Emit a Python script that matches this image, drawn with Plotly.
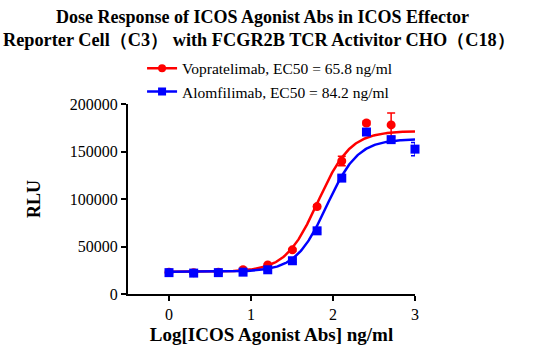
import numpy as np
import plotly.graph_objects as go

# Data
log_dose = [0.0, 0.301, 0.602, 0.903, 1.204, 1.505, 1.806, 2.107, 2.408, 2.709, 3.0]
vop_rlu = [23000, 22500, 23000, 25500, 30500, 46500, 92000, 140000, 180000, 178000, None]
vop_err = [800, 800, 800, 1000, 1200, 1500, 2000, 5000, 2000, 12500, 0]
alo_rlu = [22500, 22000, 22500, 23000, 25500, 35000, 66500, 122000, 170500, 162500, 152500]
alo_err = [800, 800, 800, 800, 1000, 1500, 2000, 2500, 2000, 2500, 7000]

# 4PL fit parameters: bottom, top, logEC50, hill
vop_fit = (23500, 171500, np.log10(65.8), 2.2)
alo_fit = (23500, 163000, np.log10(84.2), 2.3)

names = ["Vopratelimab, EC50 = 65.8 ng/ml", "Alomfilimab, EC50 = 84.2 ng/ml"]
colors = ["#ff0000", "#0000ff"]
symbols = ["circle", "square"]
title_lines = ["Dose Response of ICOS Agonist Abs in ICOS Effector",
               "Reporter Cell（C3） with FCGR2B TCR Activitor CHO（C18）"]
x_ticks = [0, 1, 2, 3]
y_ticks = [0, 50000, 100000, 150000, 200000]

SERIF = "Liberation Serif, Times New Roman, serif"

def fourpl(x, p):
    b, t, l, h = p
    return b + (t - b) / (1 + 10 ** ((l - x) * h))

xs = np.linspace(0, 3.0, 300)
fig = go.Figure()
for ys, err, fit, name, c, s in [
    (vop_rlu, vop_err, vop_fit, names[0], colors[0], symbols[0]),
    (alo_rlu, alo_err, alo_fit, names[1], colors[1], symbols[1]),
]:
    fig.add_trace(go.Scatter(x=xs, y=fourpl(xs, fit), mode="lines", cliponaxis=False,
                             line=dict(color=c, width=2.5), showlegend=False, hoverinfo="skip"))
    fig.add_trace(go.Scatter(x=log_dose, y=ys, mode="markers", name=name, showlegend=False,
                             cliponaxis=False,
                             marker=dict(color=c, symbol=s, size=9),
                             error_y=dict(type="data", array=err, color=c, thickness=1.5, width=4)))

for name, c, s in zip(names, colors, symbols):
    fig.add_trace(go.Scatter(x=[None], y=[None], mode="lines+markers", name=name,
                             line=dict(color=c, width=2.5), marker=dict(color=c, symbol=s, size=8)))

fig.add_annotation(text="<b>" + title_lines[0] + "</b>", xref="paper", yref="paper",
                   x=0.470, y=1.458, xanchor="center", yanchor="middle", showarrow=False,
                   font=dict(family=SERIF, size=18, color="black"))
fig.add_annotation(text="<b>" + title_lines[1] + "</b>", xref="paper", yref="paper",
                   x=0.458, y=1.337, xanchor="center", yanchor="middle", showarrow=False,
                   font=dict(family=SERIF, size=18.3, color="black"))

fig.update_layout(
    width=542, height=363,
    margin=dict(l=128, r=127, t=104, b=69),
    paper_bgcolor="white", plot_bgcolor="white",
    font=dict(family=SERIF, color="black"),
    legend=dict(x=0.049, xanchor="left", y=1.275, yanchor="top",
                font=dict(family=SERIF, size=15.5, color="black"),
                bgcolor="rgba(0,0,0,0)", itemwidth=30, tracegroupgap=0),
    xaxis=dict(range=[-0.5, 3.0], tickvals=x_ticks, showgrid=False, zeroline=False,
               showline=True, linecolor="black", linewidth=2, ticks="outside", ticklen=5,
               tickwidth=2, tickcolor="black", tickfont=dict(family=SERIF, size=16, color="black"),
               title=dict(text="<b>Log[ICOS Agonist Abs] ng/ml</b>",
                          font=dict(family=SERIF, size=19, color="black"), standoff=5)),
    yaxis=dict(range=[0, 200000], tickvals=y_ticks, showgrid=False,
               zeroline=False, showline=True, linecolor="black", linewidth=2, ticks="outside",
               ticklen=5, tickwidth=2, tickcolor="black",
               tickfont=dict(family=SERIF, size=16, color="black"), tickformat="d",
               title=dict(text="<b>RLU</b>", font=dict(family=SERIF, size=18, color="black"),
                          standoff=24)),
)
fig.write_html("out.html", config={"displayModeBar": False},
               post_script="document.body.style.margin='0';")
